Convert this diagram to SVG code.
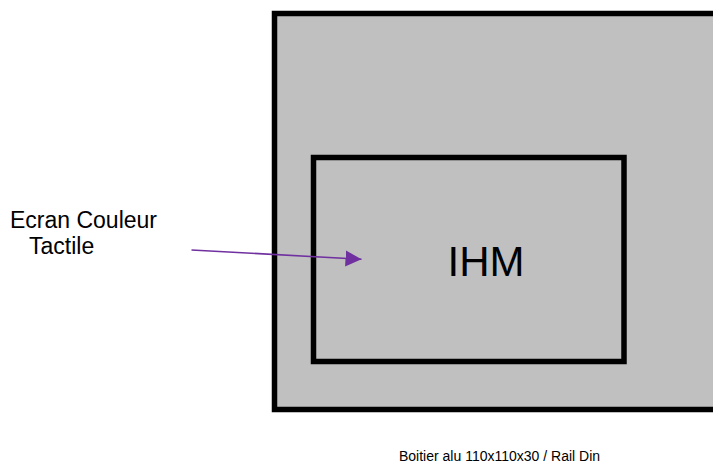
<svg xmlns="http://www.w3.org/2000/svg" width="713" height="465" viewBox="0 0 713 465">
  <style>
    .box { fill: #C0C0C0; stroke: #000000; stroke-width: 5.5; }
    .lbl { font-family: "Liberation Sans", Arial, sans-serif; fill: #000000; }
    .conn { stroke: #7030A0; stroke-width: 1.6; fill: none; }
  </style>
  <defs>
    <marker id="arrow" markerUnits="userSpaceOnUse" markerWidth="18" markerHeight="18" refX="16" refY="8" orient="auto">
      <path d="M0,0 L16,8 L0,16 Z" fill="#7030A0"/>
    </marker>
  </defs>
  <rect width="713" height="465" fill="#FFFFFF"/>
  <g id="boitier">
    <rect class="box" x="274.5" y="13.5" width="445" height="396"/>
  </g>
  <g id="ihm">
    <rect class="box" x="313.5" y="157.5" width="310.5" height="204"/>
    <text class="lbl" x="486" y="276" font-size="42" text-anchor="middle">IHM</text>
  </g>
  <g id="ecran-label">
    <text class="lbl" x="10" y="228" font-size="23">Ecran Couleur</text>
    <text class="lbl" x="29" y="254" font-size="23">Tactile</text>
  </g>
  <g id="boitier-label">
    <text class="lbl" x="399" y="461" font-size="14">Boitier alu 110x110x30 / Rail Din</text>
  </g>
  <g id="connectors">
    <line class="conn" x1="191.5" y1="250" x2="361.5" y2="259.3" marker-end="url(#arrow)"/>
  </g>
</svg>
